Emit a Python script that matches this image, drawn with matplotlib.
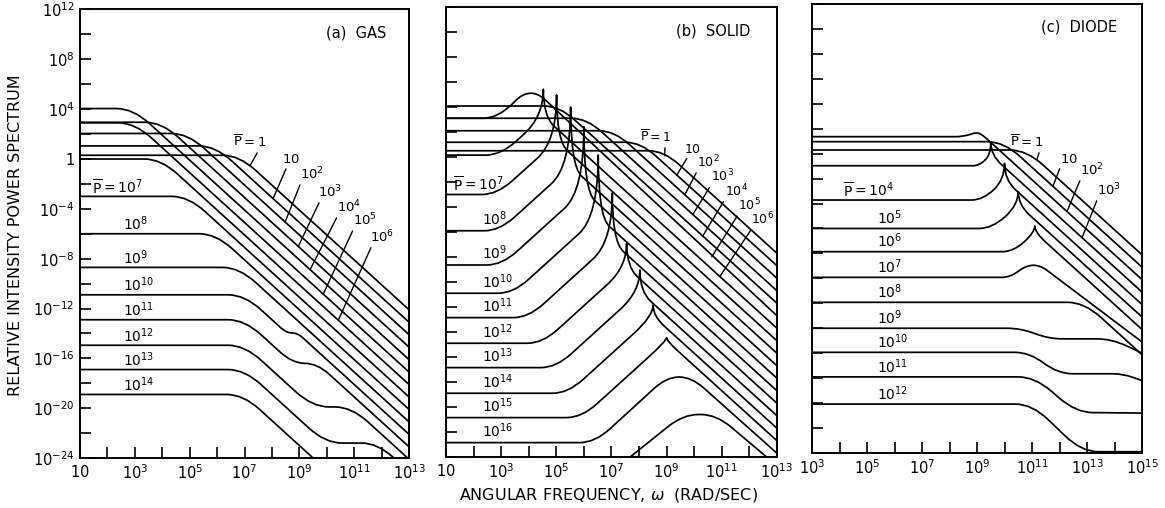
import numpy as np
import matplotlib
matplotlib.use('Agg')
import matplotlib.pyplot as plt
from matplotlib.path import Path
from matplotlib.patches import PathPatch

plt.rcParams['font.family'] = 'DejaVu Sans'
plt.rcParams['mathtext.fontset'] = 'dejavusans'

# corner points of each curve, (log10 omega, log10 S)
# index in each list = exponent of P-bar
gas_curves = [
    [(1, 0.3), (6.8, 0.3), (13, -12.1)],
    [(1, 1.05), (5.93, 1.05), (13, -13.1)],
    [(1, 2.05), (4.93, 2.05), (13, -14.1)],
    [(1, 2.95), (3.98, 2.95), (13, -15.1)],
    [(1, 4.05), (2.93, 4.05), (13, -16.1)],
    [(1, 2.9), (3.0, 2.9), (13, -17.1)],
    [(1, 0.0), (3.95, 0.0), (13, -18.1)],
    [(1, -3.0), (4.95, -3.0), (13, -19.1)],
    [(1, -6.0), (5.95, -6.0), (13, -20.1)],
    [(1, -8.7), (6.8, -8.7), (13, -21.1)],
    [(1, -10.9), (7.0, -10.9), (8.53, -13.96), (8.93, -13.96), (13, -22.1)],
    [(1, -12.9), (7.0, -12.9), (8.75, -16.4), (9.65, -16.4), (13, -23.1)],
    [(1, -14.95), (7.0, -14.95), (9.48, -19.9), (10.9, -19.9), (13, -24.1)],
    [(1, -16.9), (7.0, -16.9), (9.95, -22.8), (11.85, -22.8), (13, -25.1)],
    [(1, -18.9), (6.95, -18.9), (10.5, -26.0)],
]

solid_curves = [
    [(1, 0.5), (8.9, 0.5), (13, -7.7)],
    [(1, 1.18), (8.06, 1.18), (13, -8.7)],
    [(1, 2.1), (7.1, 2.1), (13, -9.7)],
    [(1, 3.1), (6.1, 3.1), (13, -10.7)],
    [(1, 4.08), (5.11, 4.08), (13, -11.7)],
    [(1, 3.1), (2.9, 3.1), (4.05, 5.7), (13, -12.7)],
    [(1, 0.15), (2.99, 0.15), (4.53, 3.24), (13, -13.7)],
    [(1, -3.0), (2.85, -3.0), (5.01, 1.28), (13, -14.7)],
    [(1, -5.9), (2.94, -5.9), (5.52, -0.74), (13, -15.7)],
    [(1, -8.64), (3.03, -8.64), (6.0, -2.7), (13, -16.7)],
    [(1, -10.9), (3.44, -10.9), (6.52, -4.74), (13, -17.7)],
    [(1, -12.85), (3.99, -12.85), (7.03, -6.76), (13, -18.7)],
    [(1, -14.9), (4.5, -14.9), (7.55, -8.8), (13, -19.7)],
    [(1, -16.85), (4.99, -16.85), (8.03, -10.76), (13, -20.7)],
    [(1, -18.9), (5.42, -18.9), (8.51, -12.72), (13, -21.7)],
    [(1, -20.85), (5.92, -20.85), (9.0, -14.7), (13, -22.7)],
    [(1, -22.85), (6.4, -22.85), (9.0, -17.6), (9.9, -17.6), (13, -23.7)],
    [(7.0, -25.2), (9.6, -20.6), (10.8, -20.6), (13, -24.7)],
]
# resonance spike tops (log10 S) for curves that have one
solid_peaks = {6: 5.42, 7: 4.96, 8: 4.0, 9: 2.42, 10: 0.16, 11: -2.9,
               12: -6.9, 13: -9.04, 14: -11.84, 15: -14.45}

diode_curves = [
    [(3, 0.29), (10.8, 0.29), (15, -8.11)],
    [(3, 0.96), (9.97, 0.96), (15, -9.1)],
    [(3, 1.36), (8.5, 1.36), (9.05, 1.75), (9.4, 1.1), (15, -10.1)],
    [(3, -0.97), (9.07, -0.97), (9.5, -0.1), (15, -11.1)],
    [(3, -3.72), (9.2, -3.72), (10.0, -2.1), (15, -12.1)],
    [(3, -6.0), (9.55, -6.0), (10.5, -4.1), (15, -13.1)],
    [(3, -7.86), (10.32, -7.86), (11.1, -6.3), (15, -14.1)],
    [(3, -9.92), (10.2, -9.92), (10.8, -8.95), (11.3, -8.95), (15, -15.1)],
    [(3, -11.92), (12.9, -11.92), (15, -16.12)],
    [(3, -14.0), (10.6, -14.0), (11.6, -14.85), (13.9, -14.85), (15, -16.0)],
    [(3, -15.93), (10.9, -15.93), (11.95, -17.65), (14.3, -17.65), (15, -18.2)],
    [(3, -17.9), (11.1, -17.9), (12.6, -20.75), (15, -20.8)],
    [(3, -20.08), (11.0, -20.08), (12.8, -23.9), (15, -23.9)],
]
diode_peaks = {3: 0.88, 4: -0.78, 5: -3.05, 6: -5.8}


def curve_path(pts, top=None, r=0.6, dl=0.7, dr=0.4):
    # straight pieces between the corners, corners rounded with quadratic
    # bezier pieces (drawn in log space by the axes transform)
    v = [pts[0]]
    c = [Path.MOVETO]
    for i in range(1, len(pts) - 1):
        (x0, y0), (x1, y1), (x2, y2) = pts[i - 1], pts[i], pts[i + 1]
        s0 = (y1 - y0) / (x1 - x0)
        s1 = (y2 - y1) / (x2 - x1)
        if top is not None and i == 2:
            a = min(dl, 0.5 * (x1 - x0))
            b = min(dr, 0.5 * (x2 - x1))
            v += [(x1 - a, y1 - a * s0), (x1, y1), (x1, top), (x1, y1), (x1 + b, y1 + b * s1)]
            c += [Path.LINETO] + [Path.CURVE3] * 4
        else:
            d = min(r, 0.5 * (x1 - x0), 0.5 * (x2 - x1))
            v += [(x1 - d, y1 - d * s0), (x1, y1), (x1 + d, y1 + d * s1)]
            c += [Path.LINETO, Path.CURVE3, Path.CURVE3]
    v.append(pts[-1])
    c.append(Path.LINETO)
    return Path(10.0 ** np.array(v, dtype=float), c)


def num(k):
    if k == 0:
        return '1'
    if k == 1:
        return '10'
    return '10^{%d}' % k


def plab(k, bar=False):
    if bar:
        return r'$\overline{\mathrm{P}}=' + num(k) + '$'
    return '$' + num(k) + '$'


def setpanel(ax, x0, x1, ylab):
    ax.set_xscale('log')
    ax.set_yscale('log')
    ax.set_xlim(10.0 ** x0, 10.0 ** x1)
    ax.set_ylim(1e-24, 1e12)
    ax.minorticks_off()
    xt = np.arange(x0, x1 + 1)
    ax.set_xticks(10.0 ** xt)
    ax.set_xticklabels(['$' + num(v) + '$' if (v - x0) % 2 == 0 else '' for v in xt])
    yt = np.arange(-24, 13, 2)
    ax.set_yticks(10.0 ** yt)
    if ylab:
        ax.set_yticklabels([('1' if v == 0 else r'$10^{%d}$' % v) if v % 4 == 0 else ''
                            for v in yt])
    else:
        ax.set_yticklabels([])
    ax.tick_params(direction='in', length=8, width=1.2, labelsize=10.5, pad=4)
    for s in ax.spines.values():
        s.set_linewidth(1.4)


def draw(ax, curves, peaks, r):
    for k, pts in enumerate(curves):
        p = curve_path(pts, peaks.get(k), r=r)
        ax.add_patch(PathPatch(p, fill=False, lw=1.25, ec='black',
                               capstyle='round', joinstyle='round'))


def leaders(ax, items, fs=9.5):
    for k, tx, ty, rp, px, py in items:
        ax.annotate(plab(k, k == 0), xy=(10.0 ** px, 10.0 ** py), xytext=(10.0 ** tx, 10.0 ** ty),
                    ha='left', va='bottom', fontsize=fs,
                    arrowprops=dict(arrowstyle='-', lw=1.0, color='black',
                                    shrinkA=0, shrinkB=0, relpos=(rp, 0.05)))


def leftlabels(ax, curves, ks, x, xbar, dy, dybar):
    for k in ks:
        lev = curves[k][0][1]
        if k == ks[0]:
            ax.text(10.0 ** xbar, 10.0 ** (lev + dybar), plab(k, True), fontsize=10, va='baseline')
        else:
            ax.text(10.0 ** x, 10.0 ** (lev + dy), plab(k), fontsize=10, va='baseline')


fig = plt.figure(figsize=(11.65, 5.08), dpi=100)
axa = fig.add_axes([0.0687, 0.0984, 0.2824, 0.8829])
axb = fig.add_axes([0.3828, 0.1004, 0.2841, 0.8858])
axc = fig.add_axes([0.6970, 0.1083, 0.2833, 0.8839])

draw(axa, gas_curves, {}, 0.6)
draw(axb, solid_curves, solid_peaks, 0.55)
draw(axc, diode_curves, diode_peaks, 0.6)

setpanel(axa, 1, 13, True)
setpanel(axb, 1, 13, False)
setpanel(axc, 3, 15, False)

axa.text(0.93, 0.948, '(a)  GAS', transform=axa.transAxes, ha='right', va='center', fontsize=10.5)
axb.text(0.92, 0.946, '(b)  SOLID', transform=axb.transAxes, ha='right', va='center', fontsize=10.5)
axc.text(0.925, 0.949, '(c)  DIODE', transform=axc.transAxes, ha='right', va='center', fontsize=10.5)

leaders(axa, [
    (0, 6.58, 0.71, 0.78, 7.2, -0.54),
    (1, 8.37, -0.57, 0.3, 8.04, -3.18),
    (2, 9.03, -1.86, 0.05, 8.48, -5.06),
    (3, 9.69, -3.3, 0.1, 8.96, -7.02),
    (4, 10.38, -4.5, 0.05, 9.39, -8.88),
    (5, 10.96, -5.55, 0.05, 9.87, -10.84),
    (6, 11.58, -6.9, 0.1, 10.42, -12.94),
])
leaders(axb, [
    (0, 8.03, 0.96, 0.8, 8.93, 0.1),
    (1, 9.62, 0.1, 0.3, 9.37, -1.44),
    (2, 10.1, -1.05, 0.05, 9.66, -3.02),
    (3, 10.6, -2.2, 0.05, 9.95, -4.6),
    (4, 11.1, -3.35, 0.05, 10.31, -6.32),
    (5, 11.6, -4.5, 0.05, 10.64, -7.98),
    (6, 12.05, -5.65, 0.1, 10.93, -9.56),
], fs=9)
leaders(axc, [
    (0, 10.2, 0.29, 0.9, 11.18, -0.46),
    (1, 12.02, -0.99, 0.05, 11.76, -2.62),
    (2, 12.75, -1.95, 0.05, 12.27, -4.64),
    (3, 13.36, -3.56, 0.05, 12.82, -6.74),
])

leftlabels(axa, gas_curves, list(range(7, 15)), 2.57, 1.44, 0.3, 0.2)
leftlabels(axb, solid_curves, list(range(7, 17)), 2.3, 1.25, 0.45, 0.3)
leftlabels(axc, diode_curves, list(range(4, 13)), 5.36, 4.13, 0.35, 0.3)

fig.text(0.522, 0.026, r'ANGULAR FREQUENCY, $\omega$  (RAD/SEC)', ha='center', va='center', fontsize=11.5)
fig.text(0.013, 0.537, 'RELATIVE INTENSITY POWER SPECTRUM', rotation=90,
         ha='center', va='center', fontsize=11.5)

fig.savefig('out.png', dpi=100)
